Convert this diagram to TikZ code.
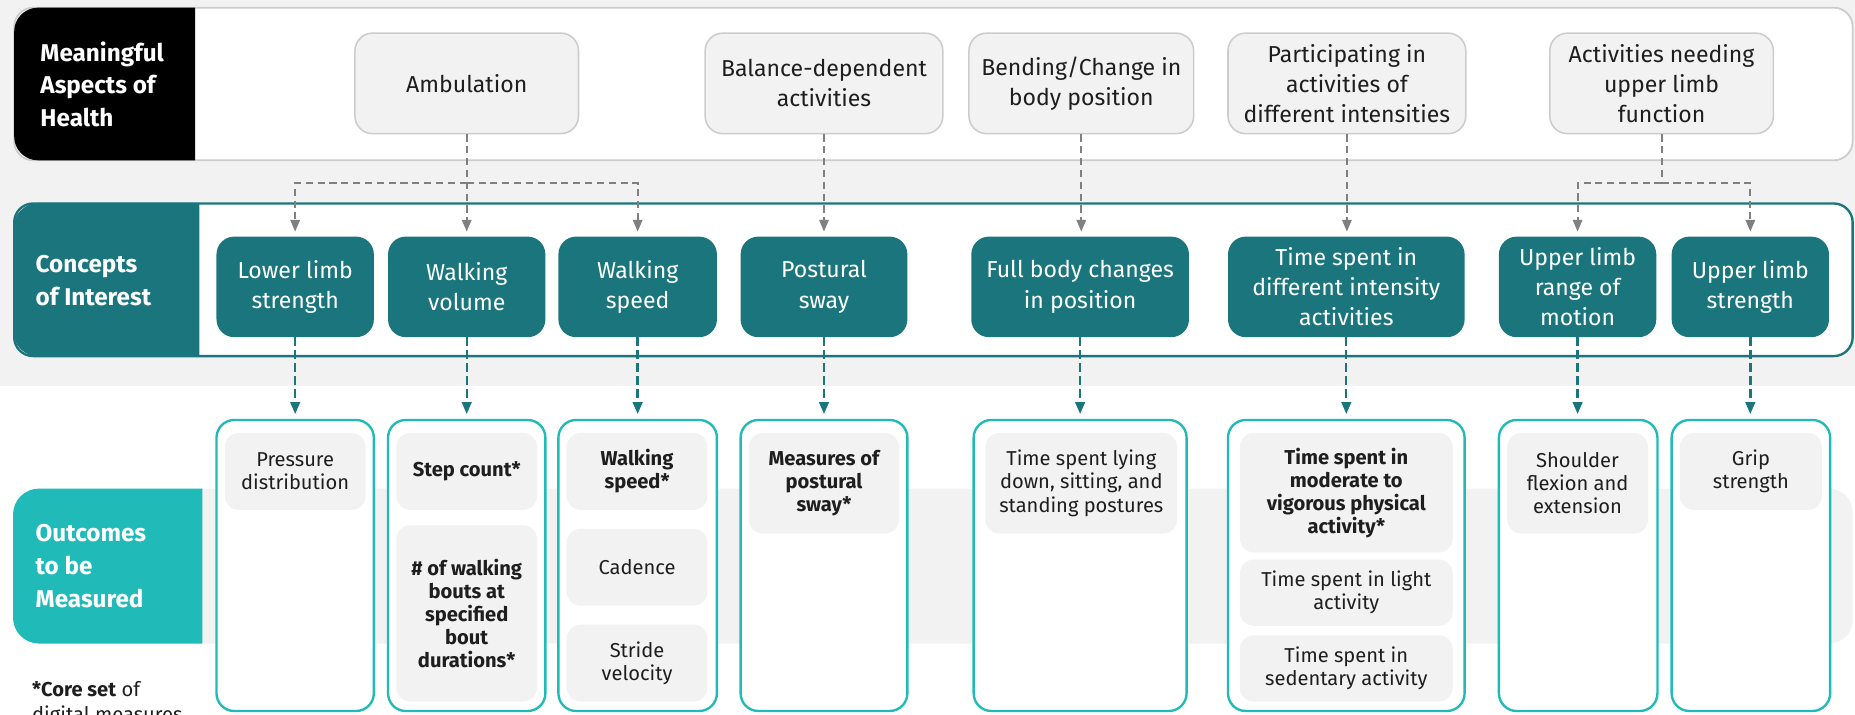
\documentclass[tikz,border=0pt]{standalone}
\usepackage{fontspec}
\setmainfont{Fira Sans}
\usetikzlibrary{arrows.meta}
\definecolor{bggray}{HTML}{F2F2F2}
\definecolor{bordergray}{HTML}{CCCCCC}
\definecolor{dteal}{HTML}{1A767C}
\definecolor{tq}{HTML}{20BBB8}
\definecolor{arrgray}{HTML}{808080}
\definecolor{txt}{HTML}{1E1E1E}
\newcommand\fsTop{\fontsize{19.5}{25.5}\selectfont}
\newcommand\fsOut{\fontsize{17}{19.5}\selectfont}
\newcommand\fsHead{\fontsize{20.5}{27.5}\selectfont\bfseries}
\tikzset{
  sz/.style 2 args={minimum width=#1pt, minimum height=#2pt},
  mah/.style={draw=bordergray, fill=bggray, line width=1.3pt, rounded corners=15pt, align=center, font=\fsTop, text=txt, inner sep=0pt},
  coi/.style={fill=dteal, rounded corners=15pt, align=center, font=\fsTop, text=white, inner sep=0pt},
  ocbox/.style={draw=tq, line width=2pt, fill=white, rounded corners=15pt, inner sep=0pt},
  om/.style={fill=bggray, rounded corners=12pt, align=center, font=\fsOut, text=txt, inner sep=0pt},
  omb/.style={om, font=\fsOut\bfseries},
  headlbl/.style={anchor=west, align=left, font=\fsHead, text=white, inner sep=0pt},
  garrow/.style={draw=arrgray, line width=1.6pt, dash pattern=on 6pt off 4pt, -{Triangle[width=8pt,length=10pt]}, shorten >=4pt},
  gline/.style={draw=arrgray, line width=1.6pt, dash pattern=on 6pt off 4pt},
  tarrow/.style={draw=dteal, line width=2pt, dash pattern=on 7pt off 4pt, -{Triangle[width=8pt,length=10pt]}, shorten >=4pt},
}
\begin{document}
\begin{tikzpicture}[x=1pt,y=-1pt]
\useasboundingbox (0,0) rectangle (1568,604);
% backgrounds
\fill[bggray] (0,0) rectangle (1568,326);
\fill[bggray, rounded corners=20pt] (150,413) rectangle (1566,544);

% row 1 panel
\node[draw=bordergray, fill=white, line width=1.5pt, rounded corners=16pt, sz={1554}{129}, inner sep=0pt] (mahpanel) at (789,71) {};
\begin{scope}
  \clip (0,0) rectangle (165,150);
  \fill[black, rounded corners=20pt] (12,6.5) rectangle (200,135.5);
\end{scope}
\node[headlbl] (mahlbl) at (34,71) {Meaningful\\Aspects of\\Health};

% row 2 panel
\node[draw=dteal, fill=white, line width=2pt, rounded corners=16pt, sz={1554}{129}, inner sep=0pt] (coipanel) at (789,236.5) {};
\begin{scope}
  \clip (0,160) rectangle (168.5,320);
  \fill[dteal, rounded corners=22pt] (11,171.5) rectangle (200,301.5);
\end{scope}
\node[headlbl] (coilbl) at (30,237) {Concepts\\of Interest};

% row 3 label
\begin{scope}
  \clip (0,400) rectangle (171,560);
  \fill[tq, rounded corners=22pt] (11,413) rectangle (200,544);
\end{scope}
\node[headlbl] (oclbl) at (30,478.5) {Outcomes\\to be\\Measured};

% meaningful aspects
\node[mah, sz={189}{85}] (amb) at (394.5,70.5) {Ambulation};
\node[mah, sz={201}{85}] (bal) at (696.5,70.5) {Balance-dependent\\activities};
\node[mah, sz={190}{85}] (bend) at (914,70.5) {Bending/Change in\\body position};
\node[mah, sz={201}{85}] (part) at (1138.5,70.5) {Participating in\\activities of\\different intensities};
\node[mah, sz={189}{85}] (act) at (1404.5,70.5) {Activities needing\\upper limb\\function};

% concepts
\node[coi, sz={133}{85}] (ll) at (249.5,242.5) {Lower limb\\strength};
\node[coi, sz={133}{85}] (vol) at (394.5,242.5) {Walking\\volume};
\node[coi, sz={134}{85}] (ws) at (539,242.5) {Walking\\speed};
\node[coi, sz={141}{85}] (ps) at (696.5,242.5) {Postural\\sway};
\node[coi, sz={184}{85}] (fb) at (913,242.5) {Full body changes\\in position};
\node[coi, sz={200}{85}] (ts) at (1138,242.5) {Time spent in\\different intensity\\activities};
\node[coi, sz={133}{85}] (urom) at (1333.5,242.5) {Upper limb\\range of\\motion};
\node[coi, sz={133}{85}] (ustr) at (1479.5,242.5) {Upper limb\\strength};

% gray connectors
\coordinate (ya) at (0,154.5);
\coordinate (ja) at (amb.south |- ya);
\coordinate (jb) at (act.south |- ya);
\draw[garrow] (amb.south) -- (vol.north);
\draw[garrow] (ja) -| (ll.north);
\draw[garrow] (ja) -| (ws.north);
\draw[garrow] (bal.south) -- (ps.north);
\draw[garrow] (bend.south) -- (bend.south |- fb.north);
\draw[garrow] (part.south) -- (part.south |- ts.north);
\draw[gline] (act.south) -- (jb);
\draw[garrow] (jb) -| (urom.north);
\draw[garrow] (jb) -| (ustr.north);

% outcome containers
\node[ocbox, sz={133}{246}] (c1) at (249.5,478) {};
\node[ocbox, sz={133}{246}] (c2) at (394.5,478) {};
\node[ocbox, sz={134}{246}] (c3) at (539,478) {};
\node[ocbox, sz={141}{246}] (c4) at (696.5,478) {};
\node[ocbox, sz={180}{246}] (c5) at (913,478) {};
\node[ocbox, sz={200}{246}] (c6) at (1138,478) {};
\node[ocbox, sz={134}{246}] (c7) at (1334,478) {};
\node[ocbox, sz={134}{246}] (c8) at (1480,478) {};

% teal connectors
\draw[tarrow] (ll.south) -- (ll.south |- c1.north);
\draw[tarrow] (vol.south) -- (vol.south |- c2.north);
\draw[tarrow] (ws.south) -- (ws.south |- c3.north);
\draw[tarrow] (ps.south) -- (ps.south |- c4.north);
\draw[tarrow] (fb.south) -- (fb.south |- c5.north);
\draw[tarrow] (ts.south) -- (ts.south |- c6.north);
\draw[tarrow] (urom.south) -- (urom.south |- c7.north);
\draw[tarrow] (ustr.south) -- (ustr.south |- c8.north);

% outcomes
\node[om, sz={119}{65}] (o1) at (249.5,398.5) {Pressure\\distribution};
\node[omb, sz={119}{65}] (o2a) at (394.5,398.5) {Step count*};
\node[omb, sz={119}{149}] (o2b) at (394.5,518.5) {\# of walking\\bouts at\\specified\\bout\\durations*};
\node[omb, sz={119}{65}] (o3a) at (538.5,398.5) {Walking\\speed*};
\node[om, sz={119}{65}] (o3b) at (538.5,479.5) {Cadence};
\node[om, sz={119}{65}] (o3c) at (538.5,560.5) {Stride\\velocity};
\node[omb, sz={127}{85}] (o4) at (696.5,408.5) {Measures of\\postural\\sway*};
\node[om, sz={162}{85}] (o5) at (914,408.5) {Time spent lying\\down, sitting, and\\standing postures};
\node[omb, sz={180}{101}] (o6a) at (1138,416.5) {Time spent in\\moderate to\\vigorous physical\\activity*};
\node[om, sz={180}{56}] (o6b) at (1138,501) {Time spent in light\\activity};
\node[om, sz={180}{56}] (o6c) at (1138,565) {Time spent in\\sedentary activity};
\node[om, sz={119}{85}] (o7) at (1333.5,408.5) {Shoulder\\flexion and\\extension};
\node[om, sz={120}{65}] (o8) at (1480,398.5) {Grip\\strength};

% footnote
\node[anchor=north west, align=left, font=\fsOut, text=txt, inner sep=0pt, text depth=0pt] (foot) at (27,576) {\textbf{*Core set} of\\[1.5pt]digital measures};
\end{tikzpicture}
\end{document}
